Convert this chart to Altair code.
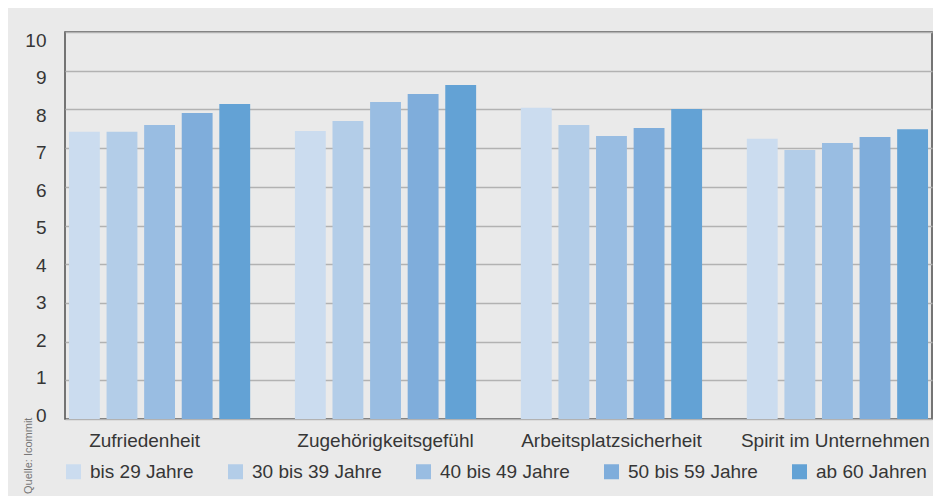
import altair as alt
import pandas as pd

categories = ["Zufriedenheit", "Zugehörigkeitsgefühl", "Arbeitsplatzsicherheit", "Spirit im Unternehmen"]
groups = ["bis 29 Jahre", "30 bis 39 Jahre", "40 bis 49 Jahre", "50 bis 59 Jahre", "ab 60 Jahren"]
colors = ["#cbdcef", "#b3cde8", "#99bde2", "#7faddb", "#63a2d5"]

vals_bis29 = [7.42, 7.44, 8.04, 7.24]
vals_30_39 = [7.42, 7.70, 7.60, 6.95]
vals_40_49 = [7.60, 8.19, 7.31, 7.13]
vals_50_59 = [7.91, 8.40, 7.52, 7.29]
vals_ab60 = [8.14, 8.63, 8.01, 7.49]
y_ticks = list(range(0, 11))
source_label = "Quelle: Icommit"

series = [vals_bis29, vals_30_39, vals_40_49, vals_50_59, vals_ab60]
rows = []
for g, vals in zip(groups, series):
    for c, v in zip(categories, vals):
        rows.append({"cat": c, "grp": g, "val": v})
df = pd.DataFrame(rows)

FONT = "Liberation Sans"
TXT = "#363636"
FS = 19

y_offset_cond = [{"test": f"datum.value == {v}", "value": round(-4 + 1.25 * v, 2)} for v in y_ticks]

bars = alt.Chart(df).mark_bar().encode(
    x=alt.X(
        "cat:N",
        sort=categories,
        scale=alt.Scale(paddingInner=0.198, paddingOuter=0.0176),
        axis=alt.Axis(
            title=None, domain=False, ticks=False, labelAngle=0,
            labelPadding=12, labelFontSize=FS, labelFont=FONT, labelColor=TXT,
            labelLimit=0,
            labelOffset={"condition": [
                {"test": "datum.value == 'Zufriedenheit'", "value": -15},
                {"test": "datum.value == 'Spirit im Unternehmen'", "value": -2},
            ], "value": 0},
        ),
    ),
    xOffset=alt.XOffset("grp:N", sort=groups, scale=alt.Scale(paddingInner=0.179, paddingOuter=0)),
    y=alt.Y(
        "val:Q",
        scale=alt.Scale(domain=[0, 10], nice=False),
        axis=alt.Axis(
            title=None, domain=False, ticks=False, values=y_ticks,
            grid=True, gridColor="#b2b2b2", gridWidth=1.5,
            labelPadding=19, labelFontSize=FS, labelFont=FONT, labelColor=TXT,
            labelOffset={"condition": y_offset_cond, "value": 0},
        ),
    ),
    color=alt.Color(
        "grp:N",
        sort=groups,
        scale=alt.Scale(domain=groups, range=colors),
        legend=alt.Legend(
            title=None, orient="none", legendX=-1, legendY=430,
            direction="horizontal", columns=5, symbolType="square",
            symbolSize=225, symbolStrokeWidth=0, labelFontSize=FS,
            labelFont=FONT, labelColor=TXT, labelOffset=7, columnPadding=32,
            labelLimit=0, padding=0,
        ),
    ),
)

src = alt.Chart(alt.Data(values=[{"t": source_label}])).mark_text(
    angle=270, align="left", baseline="alphabetic", fontSize=11, font=FONT, color="#777777"
).encode(
    text="t:N",
    x=alt.value(-33),
    y=alt.value(462),
)

chart = alt.layer(bars, src).properties(
    width=867,
    height=387,
    padding={"left": 57, "top": 24, "right": 1, "bottom": 77},
    autosize=alt.AutoSizeParams(type="none"),
    background="#eaeaea",
).configure_view(stroke="#4d4d4d", strokeWidth=1.5)

chart.save("out.html", embed_options={"renderer": "svg", "actions": False})
